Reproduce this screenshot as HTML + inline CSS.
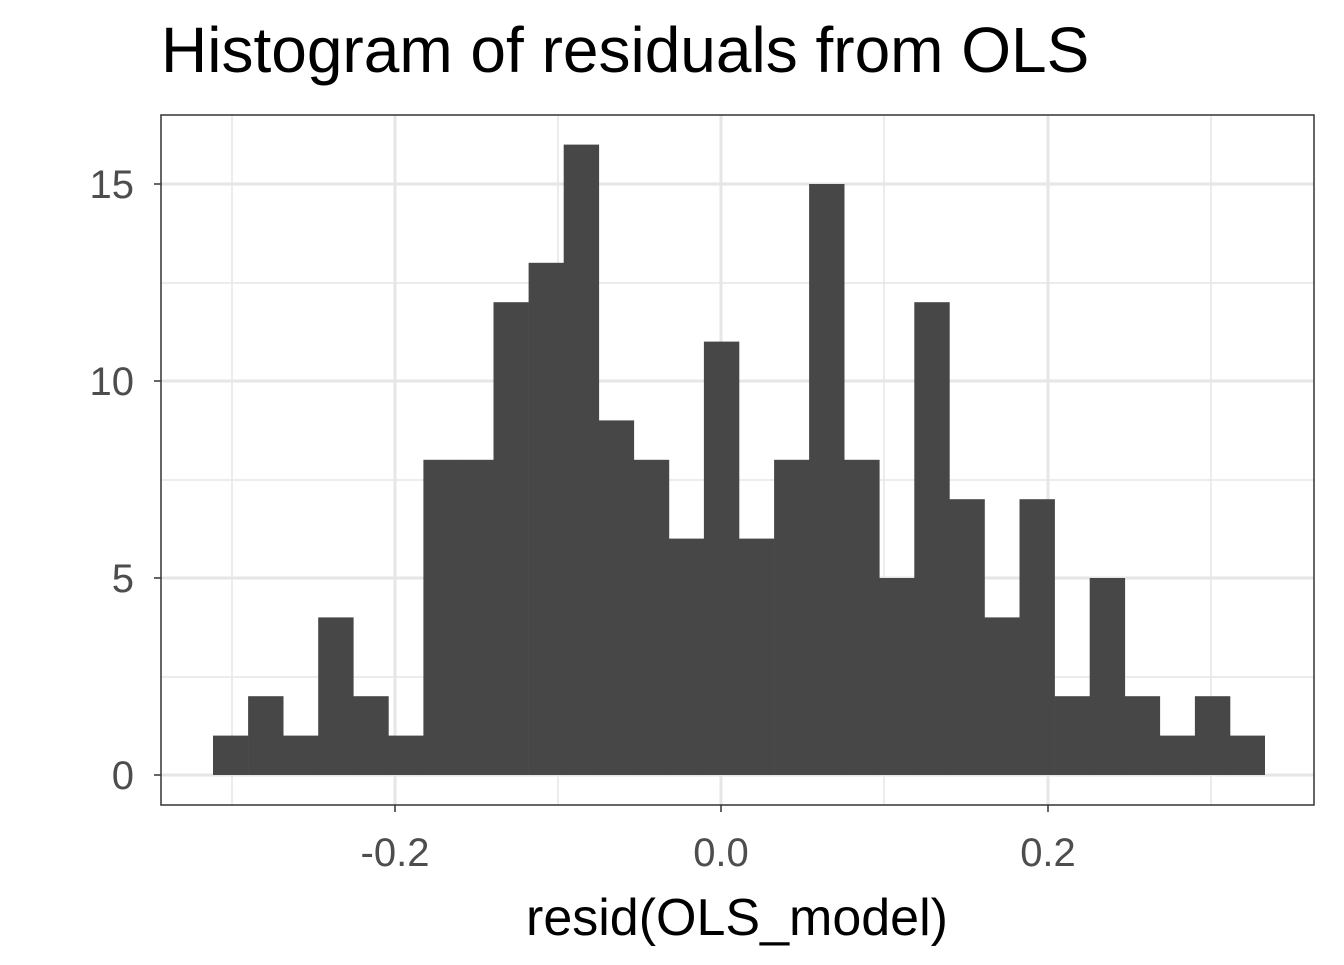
<!DOCTYPE html>
<html><head><meta charset="utf-8"><style>
html,body{margin:0;padding:0;background:#fff;}
</style></head><body>
<svg width="1344" height="960" xmlns="http://www.w3.org/2000/svg" font-family="Liberation Sans, Arial, sans-serif">
<rect width="1344" height="960" fill="#fff"/>
<text x="161" y="72" font-size="64" fill="#000">Histogram of residuals from OLS</text>
<g stroke="#e6e6e6" stroke-width="1.5">
<line x1="161" x2="1314" y1="677" y2="677"/>
<line x1="161" x2="1314" y1="480" y2="480"/>
<line x1="161" x2="1314" y1="283" y2="283"/>
<line y1="115" y2="805" x1="232" x2="232"/>
<line y1="115" y2="805" x1="558" x2="558"/>
<line y1="115" y2="805" x1="884" x2="884"/>
<line y1="115" y2="805" x1="1211" x2="1211"/>
</g>
<g stroke="#e6e6e6" stroke-width="3">
<line x1="161" x2="1314" y1="775" y2="775"/>
<line x1="161" x2="1314" y1="578" y2="578"/>
<line x1="161" x2="1314" y1="381" y2="381"/>
<line x1="161" x2="1314" y1="184" y2="184"/>
<line y1="115" y2="805" x1="395" x2="395"/>
<line y1="115" y2="805" x1="721" x2="721"/>
<line y1="115" y2="805" x1="1048" x2="1048"/>
</g>
<g fill="#474747">
<rect x="213.0" y="735.6" width="35.4" height="39.4"/>
<rect x="248.1" y="696.2" width="35.4" height="78.8"/>
<rect x="283.1" y="735.6" width="35.4" height="39.4"/>
<rect x="318.2" y="617.4" width="35.4" height="157.6"/>
<rect x="353.3" y="696.2" width="35.4" height="78.8"/>
<rect x="388.3" y="735.6" width="35.4" height="39.4"/>
<rect x="423.4" y="459.8" width="35.4" height="315.2"/>
<rect x="458.5" y="459.8" width="35.4" height="315.2"/>
<rect x="493.5" y="302.2" width="35.4" height="472.8"/>
<rect x="528.6" y="262.8" width="35.4" height="512.2"/>
<rect x="563.7" y="144.6" width="35.4" height="630.4"/>
<rect x="598.7" y="420.4" width="35.4" height="354.6"/>
<rect x="633.8" y="459.8" width="35.4" height="315.2"/>
<rect x="668.9" y="538.6" width="35.4" height="236.4"/>
<rect x="703.9" y="341.6" width="35.4" height="433.4"/>
<rect x="739.0" y="538.6" width="35.4" height="236.4"/>
<rect x="774.1" y="459.8" width="35.4" height="315.2"/>
<rect x="809.1" y="184.0" width="35.4" height="591.0"/>
<rect x="844.2" y="459.8" width="35.4" height="315.2"/>
<rect x="879.3" y="578.0" width="35.4" height="197.0"/>
<rect x="914.3" y="302.2" width="35.4" height="472.8"/>
<rect x="949.4" y="499.2" width="35.4" height="275.8"/>
<rect x="984.5" y="617.4" width="35.4" height="157.6"/>
<rect x="1019.5" y="499.2" width="35.4" height="275.8"/>
<rect x="1054.6" y="696.2" width="35.4" height="78.8"/>
<rect x="1089.7" y="578.0" width="35.4" height="197.0"/>
<rect x="1124.7" y="696.2" width="35.4" height="78.8"/>
<rect x="1159.8" y="735.6" width="35.4" height="39.4"/>
<rect x="1194.9" y="696.2" width="35.4" height="78.8"/>
<rect x="1229.9" y="735.6" width="35.1" height="39.4"/>
</g>
<rect x="161" y="115" width="1153" height="690" fill="none" stroke="#333" stroke-width="1.5"/>
<g stroke="#333" stroke-width="1.5">
<line x1="154" x2="161" y1="775" y2="775"/><line x1="154" x2="161" y1="578" y2="578"/>
<line x1="154" x2="161" y1="381" y2="381"/><line x1="154" x2="161" y1="184" y2="184"/>
<line y1="805" y2="812" x1="395" x2="395"/><line y1="805" y2="812" x1="721" x2="721"/>
<line y1="805" y2="812" x1="1048" x2="1048"/>
</g>
<g font-size="40" fill="#4d4d4d" text-anchor="end">
<text x="134" y="789">0</text><text x="134" y="592">5</text>
<text x="134" y="395">10</text><text x="134" y="198">15</text>
</g>
<g font-size="40" fill="#4d4d4d" text-anchor="middle">
<text x="395" y="866">-0.2</text><text x="721" y="866">0.0</text><text x="1048" y="866">0.2</text>
</g>
<text x="737" y="935" font-size="52" text-anchor="middle" fill="#000">resid(OLS_model)</text>
</svg>
</body></html>
